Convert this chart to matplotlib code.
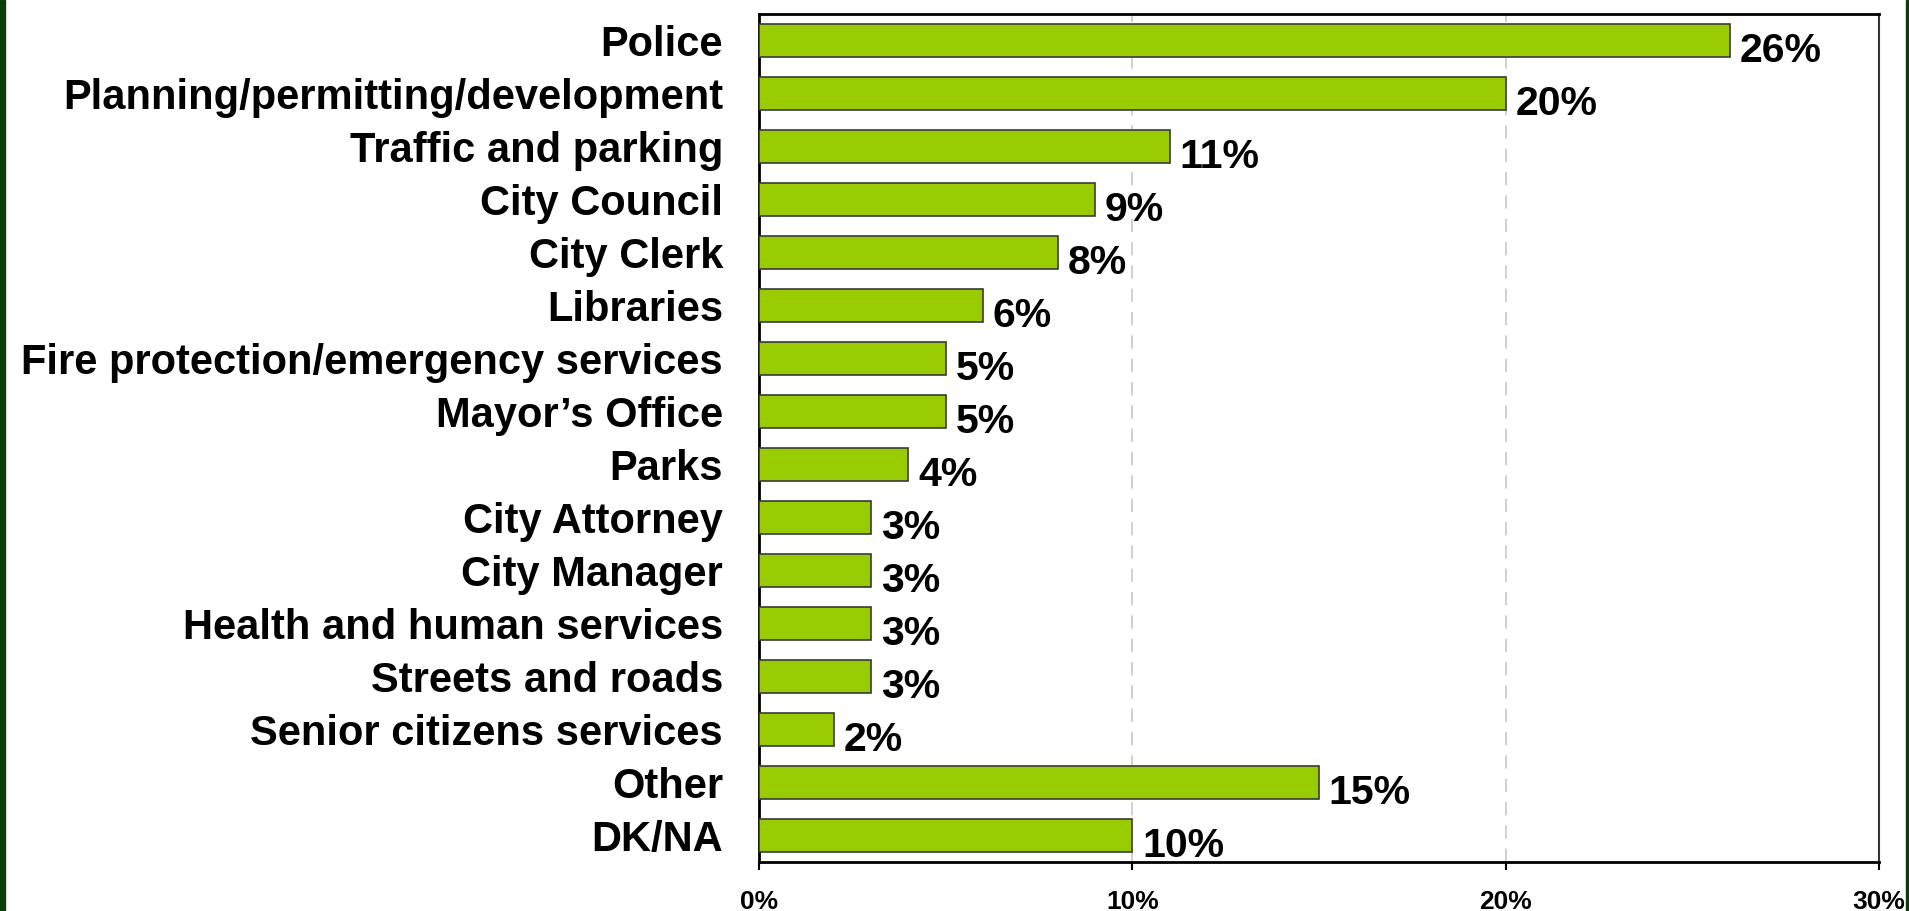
"""Horizontal bar chart: departments mentioned (share of responses)."""

import matplotlib
matplotlib.use("Agg")
import matplotlib.pyplot as plt
from matplotlib.patches import Rectangle
from matplotlib.ticker import FuncFormatter

categories = [
    "Police",
    "Planning/permitting/development",
    "Traffic and parking",
    "City Council",
    "City Clerk",
    "Libraries",
    "Fire protection/emergency services",
    "Mayor\u2019s Office",
    "Parks",
    "City Attorney",
    "City Manager",
    "Health and human services",
    "Streets and roads",
    "Senior citizens services",
    "Other",
    "DK/NA",
]
values = [26, 20, 11, 9, 8, 6, 5, 5, 4, 3, 3, 3, 3, 2, 15, 10]
xticks = [0, 10, 20, 30]

plt.rcParams["font.family"] = ["Liberation Sans", "DejaVu Sans"]
plt.rcParams["font.weight"] = "bold"

fig = plt.figure(figsize=(19.09, 9.11), dpi=100)
ax = fig.add_axes([759 / 1909, 49 / 911, 1120 / 1909, 848 / 911])

# dark green frame strips at the picture edges
fig.patches.append(Rectangle((0, 0), 5 / 1909, 1, transform=fig.transFigure,
                             color="#0b3d0b", zorder=0))
fig.patches.append(Rectangle((1906 / 1909, 0), 3 / 1909, 1, transform=fig.transFigure,
                             color="#0b3d0b", zorder=0))

y = list(range(len(categories)))
ax.barh(y, values, height=0.64, color="#99cc00", edgecolor="#3a3a3a",
        linewidth=1.2, zorder=3)

for yi, v in zip(y, values):
    ax.annotate(f"{v}%", xy=(v, yi), xytext=(7, -7.5), textcoords="offset points",
                va="center", ha="left", fontsize=29.5, fontweight="bold", zorder=4)

ax.set_ylim(len(categories) - 0.5, -0.5)
ax.set_xlim(0, 30)
ax.set_yticks(y)
ax.set_yticklabels(categories, fontsize=30, fontweight="bold")
ax.tick_params(axis="y", length=0, pad=26)
ax.set_xticks(xticks)
ax.xaxis.set_major_formatter(FuncFormatter(lambda v, p: f"{v:.0f}%"))
ax.tick_params(axis="x", length=6, width=1.5, pad=14, labelsize=19, direction="out")
for lab in ax.get_xticklabels():
    lab.set_fontweight("bold")

ax.grid(True, axis="x", color="#c8c8c8", linestyle=(0, (8, 6)), linewidth=1.2, zorder=0)
for side in ["left", "bottom", "top"]:
    ax.spines[side].set_linewidth(2)
    ax.spines[side].set_color("black")
ax.spines["right"].set_linewidth(1.5)
ax.spines["right"].set_color("#333333")

fig.savefig("out.png", dpi=100)
